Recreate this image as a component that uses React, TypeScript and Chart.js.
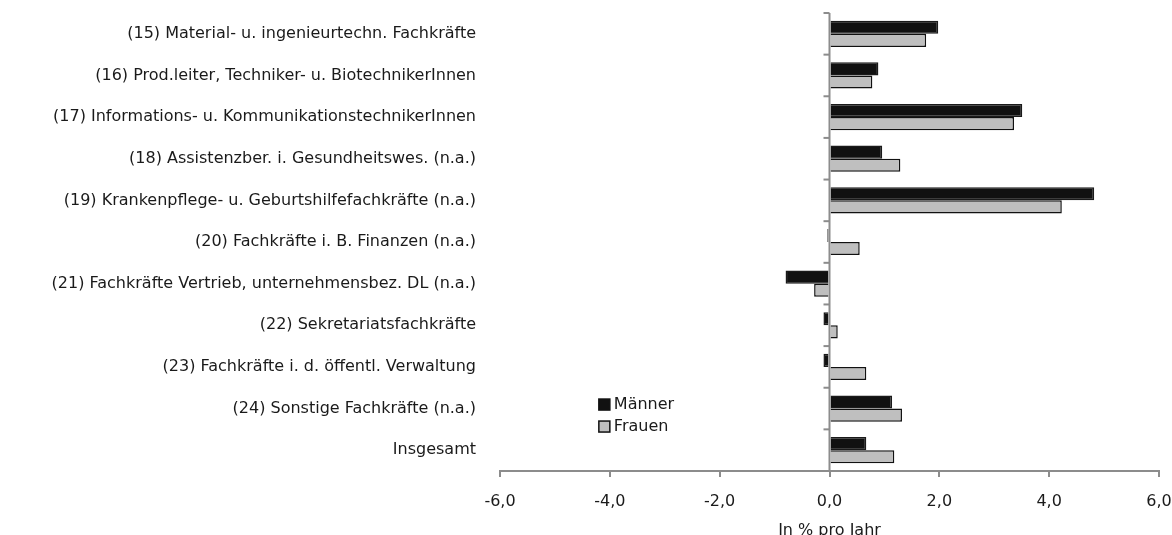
import React, { useEffect, useRef } from "react";
import { Chart, registerables } from "chart.js";

Chart.register(...registerables);

const categories: string[] = [
  "(15) Material- u. ingenieurtechn. Fachkräfte",
  "(16) Prod.leiter, Techniker- u. BiotechnikerInnen",
  "(17) Informations- u. KommunikationstechnikerInnen",
  "(18) Assistenzber. i. Gesundheitswes. (n.a.)",
  "(19) Krankenpflege- u. Geburtshilfefachkräfte (n.a.)",
  "(20) Fachkräfte i. B. Finanzen (n.a.)",
  "(21) Fachkräfte Vertrieb, unternehmensbez. DL (n.a.)",
  "(22) Sekretariatsfachkräfte",
  "(23) Fachkräfte i. d. öffentl. Verwaltung",
  "(24) Sonstige Fachkräfte (n.a.)",
  "Insgesamt",
];

const maenner: number[] = [1.98, 0.89, 3.51, 0.96, 4.82, -0.04, -0.8, -0.11, -0.11, 1.14, 0.67];
const frauen: number[] = [1.76, 0.78, 3.36, 1.29, 4.23, 0.55, -0.28, 0.15, 0.67, 1.32, 1.18];

const xMin = -6;
const xMax = 6;
const xStep = 2;
const xTitle = "In % pro Jahr";

const FONT = "'DejaVu Sans', sans-serif";
const FONT_SIZE = 16;

const zeroAxisPlugin = {
  id: "zeroAxis",
  afterDatasetsDraw(chart: any) {
    const { ctx, chartArea, scales } = chart;
    const x0 = scales.x.getPixelForValue(0);
    const y = scales.y;
    ctx.save();
    ctx.strokeStyle = "#8c8c8c";
    ctx.lineWidth = 2;
    ctx.beginPath();
    ctx.moveTo(x0, chartArea.top);
    ctx.lineTo(x0, chartArea.bottom);
    ctx.stroke();
    const n = chart.data.labels.length;
    const step = (chartArea.bottom - chartArea.top) / n;
    for (let i = 0; i < n; i++) {
      const yy = y.getPixelForValue(i) - step / 2;
      ctx.beginPath();
      ctx.moveTo(x0 - 6, yy);
      ctx.lineTo(x0, yy);
      ctx.stroke();
    }
    ctx.restore();
  },
};

const legendPlugin = {
  id: "customLegend",
  afterDraw(chart: any) {
    const { ctx, scales } = chart;
    const x = scales.x.getPixelForValue(-4.2);
    const yBase = scales.y.getPixelForValue(9) - 4;
    ctx.save();
    ctx.font = `${FONT_SIZE}px ${FONT}`;
    ctx.textBaseline = "middle";
    ctx.textAlign = "left";
    chart.data.datasets.forEach((ds: any, i: number) => {
      const cy = yBase + i * 22;
      ctx.fillStyle = ds.backgroundColor;
      ctx.fillRect(x, cy - 5.5, 11, 11);
      ctx.strokeStyle = "#111";
      ctx.lineWidth = 1.5;
      ctx.strokeRect(x, cy - 5.5, 11, 11);
      ctx.fillStyle = "#1a1a1a";
      ctx.fillText(ds.label, x + 15, cy);
    });
    ctx.restore();
  },
};

export default function App() {
  const ref = useRef<HTMLCanvasElement | null>(null);

  useEffect(() => {
    if (!ref.current) return;
    const chart = new Chart(ref.current, {
      type: "bar",
      data: {
        labels: categories,
        datasets: [
          {
            label: "Männer",
            data: maenner,
            backgroundColor: "#111111",
            borderColor: "#1a1a1a",
            borderWidth: 1.5,
            categoryPercentage: 0.63,
            barPercentage: 1,
          },
          {
            label: "Frauen",
            data: frauen,
            backgroundColor: "#bfbfbf",
            borderColor: "#111111",
            borderWidth: 1.5,
            categoryPercentage: 0.63,
            barPercentage: 1,
          },
        ],
      },
      options: {
        indexAxis: "y",
        responsive: false,
        animation: false,
        layout: { padding: { top: 13, right: 13, left: 0, bottom: 0 } },
        plugins: {
          legend: { display: false },
          tooltip: { enabled: false },
        },
        scales: {
          x: {
            min: xMin,
            max: xMax,
            ticks: {
              stepSize: xStep,
              color: "#1a1a1a",
              font: { family: FONT, size: FONT_SIZE },
              padding: 15,
              maxRotation: 0,
              callback: (v: any) => Number(v).toFixed(1).replace(".", ","),
            },
            grid: {
              drawOnChartArea: false,
              drawTicks: true,
              tickLength: 6,
              color: "#8c8c8c",
              lineWidth: 2,
            },
            border: { display: true, color: "#8c8c8c", width: 2 },
            title: {
              display: true,
              text: xTitle,
              color: "#1a1a1a",
              font: { family: FONT, size: FONT_SIZE },
              padding: { top: 0, bottom: -5 },
            },
            afterFit: (s: any) => {
              s.height = 64;
              s.paddingLeft = 0;
              s.paddingRight = 0;
            },
          },
          y: {
            ticks: {
              color: "#1a1a1a",
              font: { family: FONT, size: FONT_SIZE },
              padding: 24,
              autoSkip: false,
            },
            grid: { display: false, drawTicks: false },
            border: { display: false },
            afterFit: (s: any) => {
              s.width = 500;
              s.paddingTop = 0;
              s.paddingBottom = 0;
            },
          },
        },
      },
      plugins: [zeroAxisPlugin, legendPlugin],
    });
    return () => chart.destroy();
  }, []);

  return (
    <div style={{ position: "absolute", left: 0, top: 0, width: 1172, height: 535, background: "#fff" }}>
      <canvas ref={ref} width={1172} height={535} />
    </div>
  );
}
